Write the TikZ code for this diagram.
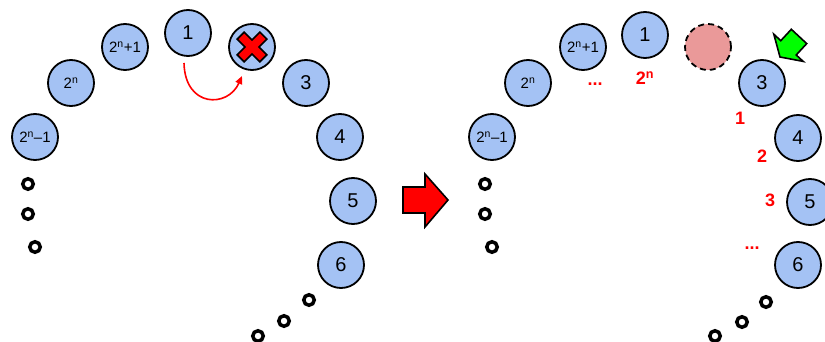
\documentclass[tikz,border=0pt]{standalone}
\usepackage{fontspec}
\setmainfont{Liberation Sans}
\usetikzlibrary{arrows.meta}
\definecolor{ballblue}{HTML}{A4C2F4}
\definecolor{ballpink}{HTML}{EA9999}
\definecolor{markred}{HTML}{FF0000}
\definecolor{markgreen}{HTML}{00FF00}
\tikzset{
  ball/.style={circle, draw=black, line width=1.8pt, fill=ballblue,
    minimum size=46pt, inner sep=0pt, font=\fontsize{20}{20}\selectfont},
  smallball/.style={ball, font=\fontsize{15}{15}\selectfont},
  gone/.style={circle, draw=black, line width=1.8pt, fill=ballpink,
    dash pattern=on 6pt off 4pt, minimum size=46pt, inner sep=0pt},
  dot/.style={circle, draw=black, line width=3.5pt, minimum size=10.5pt, inner sep=0pt},
  redlabel/.style={text=markred, font=\fontsize{18}{18}\selectfont\bfseries, inner sep=0pt},
  outlined/.style={line width=1.6pt, draw=black, line join=miter},
}
\newcommand{\pw}[1]{2\textsuperscript{n}#1}
\begin{document}
\begin{tikzpicture}[x=1pt, y=-1pt]
\useasboundingbox (0,0) rectangle (825,342);

% ---- left: before removal ----
\node[ball] (L1) at (188,33) {1};
\node[ball] (Lx) at (252,47) {};
\node[ball] (L3) at (306,83) {3};
\node[ball] (L4) at (340,137) {4};
\node[ball] (L5) at (353,201) {5};
\node[ball] (L6) at (341,265) {6};
\node[smallball] (Lp) at (125,47) {\pw{+1}};
\node[smallball] (Ln) at (71,83) {\pw{}};
\node[smallball] (Lm) at (35,137) {\pw{--1}};
\node[dot] (Ld1) at (28,184) {};
\node[dot] (Ld2) at (28,214) {};
\node[dot] (Ld3) at (35,247) {};
\node[dot] (Ld4) at (309,300) {};
\node[dot] (Ld5) at (284,321) {};
\node[dot] (Ld6) at (258,336) {};

% red cross on the removed ball
\begin{scope}[shift={(Lx.center)}, rotate=45]
  \filldraw[fill=markred, outlined] (5,16) -- (5,5) -- (16,5) -- (16,-5) -- (5,-5) -- (5,-16)
    -- (-5,-16) -- (-5,-5) -- (-16,-5) -- (-16,5) -- (-5,5) -- (-5,16) -- cycle;
\end{scope}

% red curved arrow from ball 1 to the removed ball
\coordinate (c1) at (184,63);
\coordinate (c2) at (242,76);
\draw[markred, line width=1.6pt, -{Triangle[length=8pt,width=7pt]}]
  (c1) .. controls (185,108) and (228,108) .. (c2);

% ---- big red transition arrow ----
\filldraw[fill=markred, outlined]
  (403,187) -- (425,187) -- (425,174) -- (448,200) -- (425,227) -- (425,213) -- (403,213) -- cycle;

% ---- right: after removal ----
\node[ball] (R1) at (645,35) {1};
\node[gone] (Rx) at (708,47) {};
\node[ball] (R3) at (762,83) {3};
\node[ball] (R4) at (798,138) {4};
\node[ball] (R5) at (810,202) {5};
\node[ball] (R6) at (798,265) {6};
\node[smallball] (Rp) at (583,47) {\pw{+1}};
\node[smallball] (Rn) at (528,83) {\pw{}};
\node[smallball] (Rm) at (492,137) {\pw{--1}};
\node[dot] (Rd1) at (485,184) {};
\node[dot] (Rd2) at (485,214) {};
\node[dot] (Rd3) at (492,247) {};
\node[dot] (Rd4) at (766,302) {};
\node[dot] (Rd5) at (742,322) {};
\node[dot] (Rd6) at (715,336) {};

% new counting order
\node[redlabel] (k1) at (740,118) {1};
\node[redlabel] (k2) at (762,156) {2};
\node[redlabel] (k3) at (770,200) {3};
\node[redlabel] (kd) at (752,248) {...};
\node[redlabel] (kn) at (645,78) {\pw{}};
\node[redlabel] (ke) at (595,84) {...};

% green pointer at the new start
\filldraw[fill=markgreen, outlined]
  (780,57) -- (803.2,61.4) -- (796.2,55.0) -- (806.7,43.6) -- (791.3,29.3)
  -- (780.8,40.7) -- (773.8,34.2) -- cycle;
\end{tikzpicture}
\end{document}
